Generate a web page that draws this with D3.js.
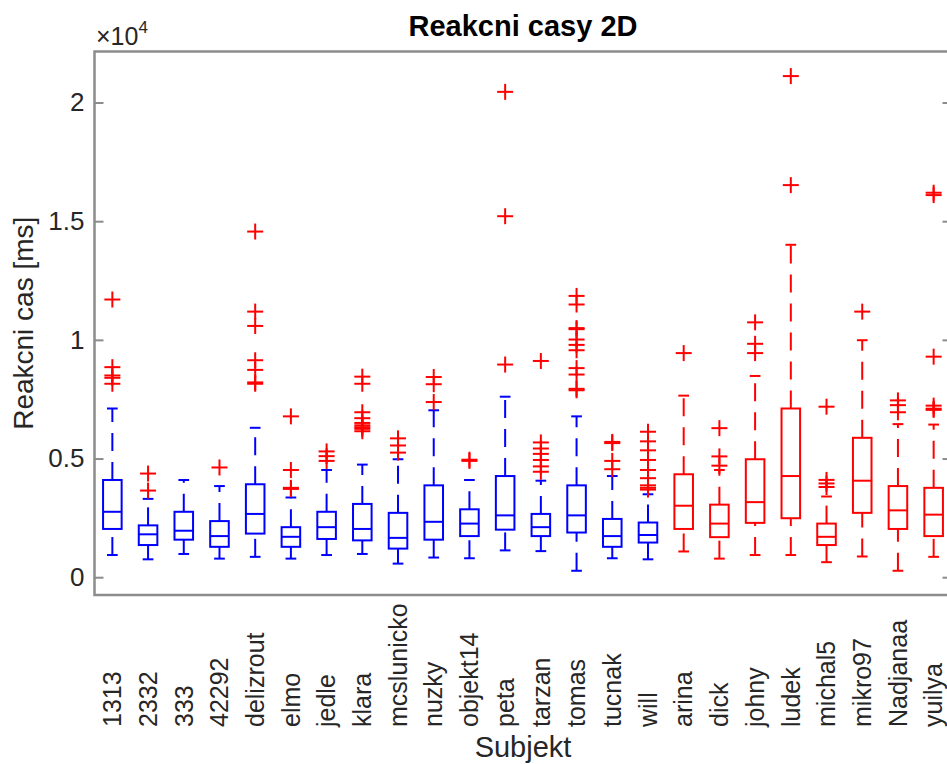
<!DOCTYPE html>
<html><head><meta charset="utf-8">
<script src="https://cdn.jsdelivr.net/npm/d3@7"></script>
<style>body{margin:0;background:#fff;overflow:hidden}svg{display:block}</style>
</head><body><svg id="c" width="947" height="764"></svg>
<script>
const categories = ["1313","2332","333","42292","delizrout","elmo","jedle","klara","mcslunicko","nuzky","objekt14","peta","tarzan","tomas","tucnak","will","arina","dick","johny","ludek","michal5","mikro97","Nadjanaa","yuilya"];
const groups = ["A","A","A","A","A","A","A","A","A","A","A","A","A","A","A","A","B","B","B","B","B","B","B","B"];
const whiskerLow  = [934,753,979,783,858,783,934,979,572,828,798,1130,1099,271,798,753,1084,783,934,934,633,873,271,858];
const q1          = [2033,1355,1581,1280,1837,1280,1611,1551,1205,1581,1732,2003,1732,1882,1280,1460,2033,1687,2289,2485,1355,2711,2033,1732];
const median      = [2756,1807,1958,1732,2666,1702,2108,2033,1657,2334,2259,2605,2108,2605,1732,1777,3012,2259,3163,4262,1702,4066,2816,2636];
const q3          = [4096,2184,2756,2364,3916,2108,2756,3087,2711,3870,2861,4262,2666,3870,2455,2304,4337,3057,4970,7108,2259,5873,3840,3765];
const whiskerHigh = [7108,3300,4096,3840,6295,3358,4518,4744,4970,7033,4096,7605,4066,6777,4262,3494,7650,4518,8479,14006,3400,9985,6450,6431];
const outliers = [
  [11700,8850,8500,8400,8150],
  [4367,3650],
  [],
  [4623],
  [14563,11190,10587,9142,8735,8208,8150],
  [6777,4518,3765,3720],
  [5300,5100,4900],
  [8450,8150,6950,6700,6500,6400,6320,6250,6150],
  [5850,5550,5250],
  [8434,8132,7380],
  [4950,4900],
  [20450,15210,8960],
  [9111,5678,5422,5196,4940,4669,4443],
  [11852,11490,10496,10450,10014,9788,9563,8810,8539,7937,7876],
  [5700,5650,4900,4550],
  [6129,5723,5346,4940,4518,4172,3870,3765,3690],
  [9443],
  [6280,5090,4700],
  [10738,9834,9443],
  [21114,16521],
  [7184,4100,3950,3800],
  [11190],
  [7450,7250,6950],
  [16200,16100,9292,7229,7100,7050]
];
const yTicks = [0,5000,10000,15000,20000];
const yTickLabels = ["0","0.5","1","1.5","2"];
const groupColors = {A:"#0000ff", B:"#ff0000"};
const outlierColor = "#ff0000";

const svg = d3.select("#c");
const L=94.5, R=951.5, T=51.5, B=595;
const font = "'Liberation Sans', Arial, Helvetica, sans-serif";
const axisColor = "#8c8c8c", textColor = "#262626";

const x = d3.scaleBand().domain(categories).range([L,R]).paddingInner(0).paddingOuter(0);
const y = d3.scaleLinear().domain([-750,22150]).range([B,T]);
const bw = x.bandwidth(), boxW = bw*0.52, capW = bw*0.3;

const g = svg.append("g");
categories.forEach((c,i)=>{
  const cx = x(c)+bw/2, col = groupColors[groups[i]];
  const gg = g.append("g").attr("stroke",col).attr("fill","none").attr("stroke-width",2);
  gg.append("line").attr("x1",cx).attr("x2",cx).attr("y1",y(q3[i])).attr("y2",y(whiskerHigh[i])).attr("stroke-dasharray","18,11");
  gg.append("line").attr("x1",cx).attr("x2",cx).attr("y1",y(whiskerLow[i])).attr("y2",y(q1[i])).attr("stroke-dasharray","18,11");
  gg.append("line").attr("x1",cx-capW/2).attr("x2",cx+capW/2).attr("y1",y(whiskerHigh[i])).attr("y2",y(whiskerHigh[i]));
  gg.append("line").attr("x1",cx-capW/2).attr("x2",cx+capW/2).attr("y1",y(whiskerLow[i])).attr("y2",y(whiskerLow[i]));
  gg.append("rect").attr("x",cx-boxW/2).attr("width",boxW).attr("y",y(q3[i])).attr("height",y(q1[i])-y(q3[i]));
  gg.append("line").attr("x1",cx-boxW/2).attr("x2",cx+boxW/2).attr("y1",y(median[i])).attr("y2",y(median[i]));
  const og = g.append("g").attr("stroke",outlierColor).attr("stroke-width",2);
  outliers[i].forEach(v=>{
    const py=y(v);
    og.append("line").attr("x1",cx-8).attr("x2",cx+8).attr("y1",py).attr("y2",py);
    og.append("line").attr("x1",cx).attr("x2",cx).attr("y1",py-8).attr("y2",py+8);
  });
});

svg.append("rect").attr("x",L).attr("y",T).attr("width",R-L).attr("height",B-T)
  .attr("fill","none").attr("stroke",axisColor).attr("stroke-width",2.5);
const yAxisL = d3.axisLeft(y).tickValues(yTicks).tickFormat((d,i)=>yTickLabels[i]).tickSizeInner(-9).tickSizeOuter(0).tickPadding(10);
const ga = svg.append("g").attr("transform",`translate(${L},0)`).call(yAxisL);
ga.select(".domain").remove();
ga.selectAll(".tick line").attr("stroke",axisColor).attr("stroke-width",2);
ga.selectAll(".tick text").attr("fill",textColor).style("font-family",font).style("font-size","26px");
const yAxisR = d3.axisRight(y).tickValues(yTicks).tickFormat("").tickSizeInner(-9).tickSizeOuter(0);
const gr = svg.append("g").attr("transform",`translate(${R},0)`).call(yAxisR);
gr.select(".domain").remove();
gr.selectAll(".tick line").attr("stroke",axisColor).attr("stroke-width",2);

categories.forEach(c=>{
  const cx = x(c)+bw/2;
  svg.append("text").attr("transform",`translate(${cx},727) rotate(-90)`)
    .attr("text-anchor","start").attr("dy","0.35em")
    .attr("fill",textColor).style("font-family",font).style("font-size","25px").text(c);
});

const ex = svg.append("text").attr("x",96).attr("y",45).attr("fill",textColor).style("font-family",font).style("font-size","25px");
ex.append("tspan").text("×10");
ex.append("tspan").attr("dy",-12).style("font-size","17px").text("4");

svg.append("text").attr("x",(L+R)/2).attr("y",36).attr("text-anchor","middle").attr("fill","#000")
  .style("font-family",font).style("font-size","29px").style("font-weight","bold").text("Reakcni casy 2D");
svg.append("text").attr("x",(L+R)/2).attr("y",757).attr("text-anchor","middle").attr("fill",textColor)
  .style("font-family",font).style("font-size","29px").text("Subjekt");
svg.append("text").attr("transform",`translate(33,${(T+B)/2}) rotate(-90)`).attr("text-anchor","middle").attr("fill",textColor)
  .style("font-family",font).style("font-size","28px").text("Reakcni cas [ms]");
</script></body></html>
